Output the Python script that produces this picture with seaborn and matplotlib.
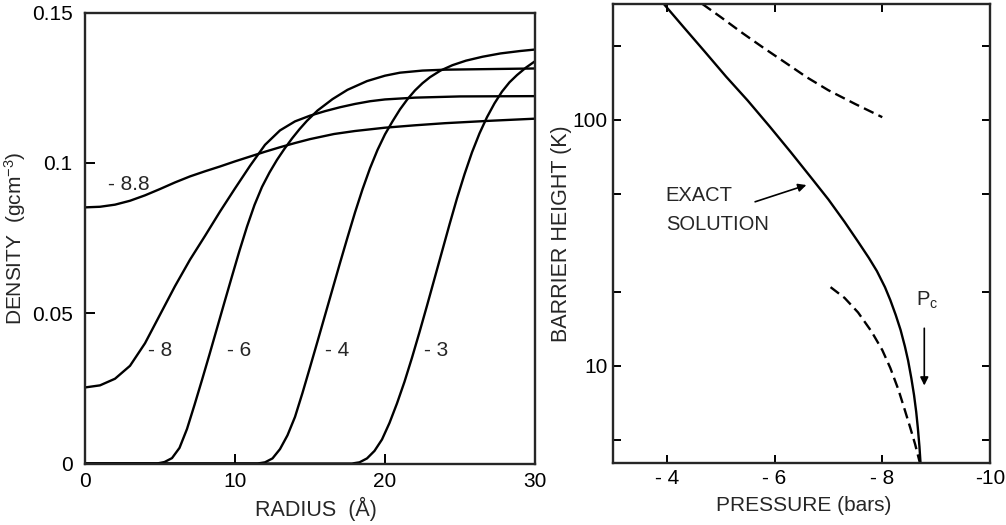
import numpy as np
import pandas as pd
import seaborn as sns
import matplotlib.pyplot as plt
from matplotlib.ticker import FixedLocator, NullFormatter

# ---- left panel: density profiles, labelled by pressure (bars)
r_m88 = [0, 1, 2, 3, 4, 5, 6, 7, 8, 9, 10, 11, 12, 13, 14, 15, 16.6, 18, 20, 22, 24, 27, 30]
d_m88 = [0.0852, 0.0854, 0.0861, 0.0874, 0.0892, 0.0913, 0.0935, 0.0955, 0.0972, 0.0988,
         0.1005, 0.1021, 0.1037, 0.1052, 0.1066, 0.1079, 0.1096, 0.1106, 0.1117, 0.1125,
         0.1132, 0.1140, 0.1147]

r_m8 = [0, 1, 2, 3, 4, 5, 6, 7, 8, 9, 10, 11, 12, 13, 14, 15, 16, 17, 18, 19, 20, 22, 25, 30]
d_m8 = [0.0253, 0.0260, 0.0282, 0.0325, 0.0400, 0.0495, 0.0590, 0.0678, 0.0757, 0.0838,
        0.0915, 0.0990, 0.1060, 0.1108, 0.1138, 0.1157, 0.1172, 0.1185, 0.1196, 0.1205,
        0.1211, 0.1217, 0.1221, 0.1222]

r_m6 = [0, 4.8, 5.3, 5.8, 6.3, 6.8, 7.3, 7.8, 8.3, 8.8, 9.3, 9.8, 10.3, 10.8, 11.3, 11.8,
        12.3, 12.8, 13.3, 13.8, 14.3, 14.8, 15.5, 16.5, 17.5, 18.8, 20, 21, 22.5, 24, 27, 30]
d_m6 = [0, 0, 0.0005, 0.0018, 0.0052, 0.0115, 0.0195, 0.0278, 0.0363, 0.0450, 0.0537,
        0.0623, 0.0708, 0.0788, 0.0860, 0.0920, 0.0968, 0.1010, 0.1047, 0.1081, 0.1112,
        0.1140, 0.1174, 0.1212, 0.1243, 0.1272, 0.1290, 0.1300, 0.1307, 0.1310, 0.1312, 0.1314]

r_m4 = [0, 11.5, 12.0, 12.5, 13.0, 13.5, 14.0, 14.5, 15.0, 15.5, 16.0, 16.5, 17.0, 17.5,
        18.0, 18.5, 19.0, 19.5, 20.0, 20.5, 21.0, 21.5, 22.0, 22.5, 23.0, 23.7, 24.5, 25.4,
        26.5, 27.7, 29, 30]
d_m4 = [0, 0, 0.0004, 0.0017, 0.0048, 0.0094, 0.0155, 0.0235, 0.0320, 0.0406, 0.0493,
        0.0580, 0.0667, 0.0752, 0.0835, 0.0912, 0.0982, 0.1043, 0.1095, 0.1138, 0.1178,
        0.1212, 0.1241, 0.1265, 0.1285, 0.1307, 0.1325, 0.1340, 0.1353, 0.1364, 0.1372, 0.1377]

r_m3 = [0, 17.8, 18.3, 18.8, 19.3, 19.8, 20.3, 20.8, 21.3, 21.8, 22.3, 22.8, 23.3, 23.8,
        24.3, 24.8, 25.3, 25.8, 26.3, 26.8, 27.3, 27.8, 28.3, 28.8, 29.4, 30]
d_m3 = [0, 0, 0.0004, 0.0017, 0.0042, 0.0080, 0.0135, 0.0200, 0.0272, 0.0352, 0.0437,
        0.0525, 0.0615, 0.0705, 0.0795, 0.0882, 0.0962, 0.1035, 0.1098, 0.1152, 0.1198,
        0.1237, 0.1268, 0.1292, 0.1317, 0.1338]

curve_labels = ["- 8.8", "- 8", "- 6", "- 4", "- 3"]
label_r = [2.9, 5.0, 10.3, 16.8, 23.4]
label_d = [0.0928, 0.0376, 0.0376, 0.0377, 0.0377]

# ---- right panel: barrier height vs pressure
p_exact = [-3.95, -4.3, -4.7, -5.1, -5.5, -5.91, -6.3, -6.7, -7.0, -7.3, -7.55, -7.75,
           -7.9, -8.05, -8.15, -8.25, -8.34, -8.42, -8.48, -8.54, -8.59, -8.63, -8.66,
           -8.69, -8.71]
b_exact = [295, 240, 190, 150, 120, 94, 74, 57.5, 47.5, 38.5, 32.0, 27.5,
           24.3, 20.9, 18.5, 16.1, 14.0, 12.0, 10.5, 8.9, 7.6, 6.5, 5.6, 4.7, 4.03]

p_high = [-4.66, -5.0, -5.41, -5.8, -6.2, -6.6, -7.0, -7.5, -8.0]
b_high = [296, 262, 225, 196, 171, 149, 132, 116, 102.6]

p_low = [-7.04, -7.3, -7.55, -7.8, -8.0, -8.15, -8.3, -8.42, -8.52, -8.61, -8.70]
b_low = [20.9, 18.9, 16.5, 13.8, 11.6, 9.8, 8.0, 6.6, 5.6, 4.8, 4.02]

r_ticks = [0, 10, 20, 30]
d_ticks = [0, 0.05, 0.1, 0.15]
d_ticklabels = ["0", "0.05", "0.1", "0.15"]
p_ticks = [-4, -6, -8, -10]
p_ticklabels = ["- 4", "- 6", "- 8", "-10"]
b_major = [10, 100]
b_minor = [5, 20, 50, 200]

sns.set_theme(style="ticks")
plt.rcParams['font.family'] = ['Liberation Sans', 'DejaVu Sans']
plt.rcParams['mathtext.default'] = 'regular'
plt.rcParams['axes.linewidth'] = 1.7

frames = []
for lab, rr, dd in zip(curve_labels, [r_m88, r_m8, r_m6, r_m4, r_m3],
                       [d_m88, d_m8, d_m6, d_m4, d_m3]):
    frames.append(pd.DataFrame({"radius": rr, "density": dd, "p": lab}))
df = pd.concat(frames, ignore_index=True)

fig = plt.figure(figsize=(10.06, 5.25), dpi=100)
ax = fig.add_axes([0.0845, 0.1171, 0.4473, 0.859])
ax2 = fig.add_axes([0.6093, 0.1181, 0.3748, 0.8743])

sns.lineplot(data=df, x="radius", y="density", units="p", estimator=None, sort=False,
             color="black", lw=1.7, legend=False, ax=ax)
for t, xx, yy in zip(curve_labels, label_r, label_d):
    ax.text(xx, yy, t, ha="center", va="center", fontsize=15)

ax.set_xlim(0, 30)
ax.set_ylim(0, 0.15)
ax.set_xticks(r_ticks)
ax.set_yticks(d_ticks)
ax.set_yticklabels(d_ticklabels)
ax.tick_params(direction="in", length=7, width=1.4, labelsize=15, colors="black")
ax.tick_params(axis="y", pad=9)
ax.tick_params(axis="x", pad=6)
ax.set_xlabel("RADIUS  (Å)", fontsize=15.5)
ax.set_ylabel("DENSITY  (gcm$^{-3}$)", fontsize=15)
ax.xaxis.set_label_coords(0.513, -0.075)
ax.yaxis.set_label_coords(-0.127, 0.5)

sns.lineplot(x=p_exact, y=b_exact, sort=False, color="black", lw=1.7, ax=ax2)
sns.lineplot(x=p_high, y=b_high, sort=False, color="black", lw=1.7,
             linestyle=(0, (4.5, 2.3)), ax=ax2)
sns.lineplot(x=p_low, y=b_low, sort=False, color="black", lw=1.7,
             linestyle=(0, (4.5, 2.3)), ax=ax2)
ax2.set_yscale("log")
ax2.set_xlim(-3, -10)
ax2.set_ylim(4.03, 296)
ax2.set_xticks(p_ticks)
ax2.set_xticklabels(p_ticklabels)
ax2.yaxis.set_major_locator(FixedLocator(b_major))
ax2.set_yticklabels([str(v) for v in b_major])
ax2.yaxis.set_minor_locator(FixedLocator(b_minor))
ax2.yaxis.set_minor_formatter(NullFormatter())
ax2.tick_params(which="both", direction="in", length=6, width=1.4, labelsize=15,
                top=True, right=True, pad=4, colors="black")

ax2.text(-3.98, 49.3, "EXACT", ha="left", va="center", fontsize=14.5)
ax2.text(-3.98, 37.6, "SOLUTION", ha="left", va="center", fontsize=14.5)
ax2.annotate("", xy=(-6.64, 54.8), xytext=(-5.59, 46.1),
             arrowprops=dict(arrowstyle="-|>", color="black", lw=1.2, mutation_scale=12))
ax2.text(-8.83, 18.5, "P$_c$", ha="center", va="center", fontsize=14.5)
ax2.annotate("", xy=(-8.78, 8.11), xytext=(-8.78, 14.6),
             arrowprops=dict(arrowstyle="-|>", color="black", lw=1.2, mutation_scale=12))

ax2.set_xlabel("PRESSURE (bars)", fontsize=15)
ax2.set_ylabel("BARRIER HEIGHT (K)", fontsize=15.5)
ax2.xaxis.set_label_coords(0.507, -0.072)
ax2.yaxis.set_label_coords(-0.108, 0.5)

plt.savefig("out.png", dpi=100)
